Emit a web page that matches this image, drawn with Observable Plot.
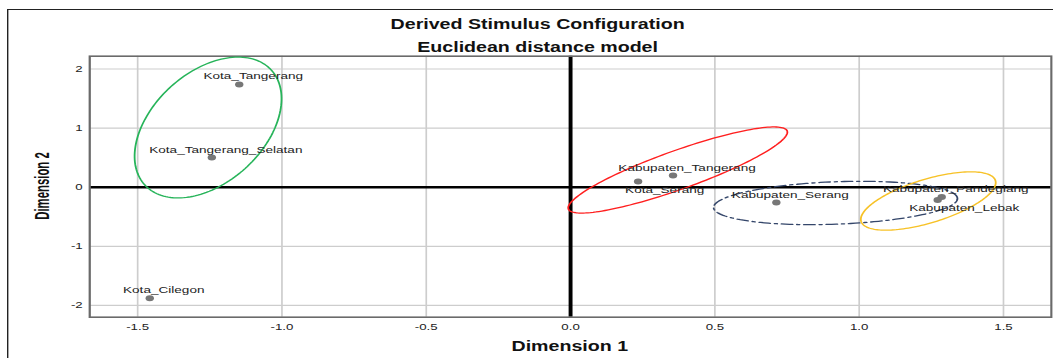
<!DOCTYPE html>
<html><head><meta charset="utf-8">
<script src="https://cdn.jsdelivr.net/npm/d3@7"></script>
<script src="https://cdn.jsdelivr.net/npm/@observablehq/plot@0.6"></script>
<style>
html,body{margin:0;padding:0;background:#fff;overflow:hidden;width:1053px;height:358px;}
#wrap{position:absolute;left:0;top:0;width:752px;height:358px;transform:scaleX(1.4);transform-origin:0 0;font-family:"Liberation Sans",Arial,sans-serif;}
#box{position:absolute;left:5px;top:9px;width:800px;height:400px;border-left:1.5px solid #222;border-top:1.5px solid #222;}
.t{position:absolute;left:384px;transform:translateX(-50%);white-space:nowrap;font-weight:bold;font-size:14px;line-height:16px;color:#111;}
#xlab{position:absolute;left:407px;top:338px;transform:translateX(-50%);white-space:nowrap;font-weight:bold;font-size:14px;line-height:16px;color:#111;}
#ylab{position:absolute;left:30.4px;top:186px;transform:translate(-50%,-50%) rotate(-90deg) scaleX(0.81);white-space:nowrap;font-weight:bold;font-size:14px;line-height:16px;color:#111;}
#chart{position:absolute;left:0;top:50px;}
</style></head><body>
<div id="wrap"><div id="box"></div>
<div class="t" style="top:15.5px">Derived Stimulus Configuration</div>
<div class="t" style="top:39px">Euclidean distance model</div>
<div id="chart"></div>
<div id="xlab">Dimension 1</div>
<div id="ylab">Dimension 2</div>
</div>
<script>
// Stimulus coordinates
const names = ["Kota_Tangerang","Kota_Tangerang_Selatan","Kota_Cilegon","Kabupaten_Tangerang","Kota_Serang","Kabupaten_Serang","Kabupaten_Pandeglang","Kabupaten_Lebak"];
const dim1 = [-1.148,-1.243,-1.458,0.355,0.234,0.713,1.286,1.272];
const dim2 = [1.740,0.503,-1.878,0.198,0.096,-0.259,-0.165,-0.215];
const labelSide = ["above","above","above","above","below","above","above","below"];
const xTicks = [-1.5,-1.0,-0.5,0.0,0.5,1.0,1.5];
const yTicks = [-2,-1,0,1,2];

// Group ellipses (center, conjugate semi-axis vectors in data units)
const ellipseColor = ["#27b45a","#ff1f1f","#34466a","#f7c227"];
const ellipseCx = [-1.256,0.3715,0.918,1.2394];
const ellipseCy = [1.010,0.291,-0.267,-0.2335];
const ellipseUx = [0.220,0.379,0.4224,0.2327];
const ellipseUy = [0.968,0.660,0.0774,0.3453];
const ellipseVx = [-0.128,-0.0226,-0.00275,-0.02196];
const ellipseVy = [0.695,0.309,0.3586,0.3529];
const ellipseDash = [null,null,"8,3,2,3",null];

const pts = names.map((n,i)=>({name:n,x:dim1[i],y:dim2[i],side:labelSide[i]}));
function ellipse(i){
  const a=[]; const N=160;
  for(let k=0;k<=N;k++){const t=2*Math.PI*k/N;
    a.push({x:ellipseCx[i]+ellipseUx[i]*Math.cos(t)+ellipseVx[i]*Math.sin(t),
            y:ellipseCy[i]+ellipseUy[i]*Math.cos(t)+ellipseVy[i]*Math.sin(t)});}
  return a;
}
const ellMarks = ellipseColor.map((c,i)=>Plot.line(ellipse(i),{x:"x",y:"y",stroke:c,strokeWidth:1.3,strokeDasharray:ellipseDash[i]||undefined}));

const chart = Plot.plot({
  width:752, height:308,
  marginLeft:63.6, marginRight:1.5, marginTop:5.7, marginBottom:41.3,
  style:{fontFamily:"Liberation Sans, Arial, sans-serif",fontSize:"9.5px",background:"transparent",color:"#222"},
  x:{domain:[-1.666,1.666],ticks:xTicks,tickSize:0,tickPadding:6,tickFormat:v=>v.toFixed(1),label:null},
  y:{domain:[-2.2,2.217],ticks:yTicks,tickSize:0,tickPadding:5,tickFormat:v=>String(v),label:null},
  marks:[
    Plot.gridX(xTicks,{stroke:"#cdcdcd",strokeOpacity:1,strokeWidth:1.2}),
    Plot.gridY(yTicks,{stroke:"#cdcdcd",strokeOpacity:1,strokeWidth:1.2}),
    Plot.ruleX([0],{stroke:"#000",strokeWidth:2.8}),
    Plot.ruleY([0],{stroke:"#000",strokeWidth:2.5}),
    Plot.frame({stroke:"#6a6a6a",strokeWidth:1.6}),
    ...ellMarks,
    Plot.dot(pts,{x:"x",y:"y",r:3,fill:"#777",stroke:null}),
    Plot.text(pts.filter(d=>d.side==="above"),{x:"x",y:"y",text:"name",dx:10,dy:-8,fontSize:9.7,fill:"#222"}),
    Plot.text(pts.filter(d=>d.side==="below"),{x:"x",y:"y",text:"name",dx:19,dy:8,fontSize:9.7,fill:"#222"})
  ]
});
document.getElementById("chart").appendChild(chart);
</script>
</body></html>
